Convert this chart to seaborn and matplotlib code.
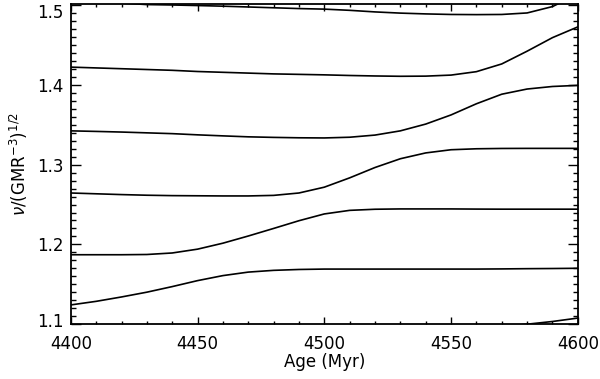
import matplotlib
matplotlib.use("Agg")
import matplotlib.pyplot as plt
import matplotlib.transforms as mtransforms
import seaborn as sns
import pandas as pd
from matplotlib.ticker import MultipleLocator

# Data
ages = [4400, 4410, 4420, 4430, 4440, 4450, 4460, 4470, 4480, 4490, 4500,
        4510, 4520, 4530, 4540, 4550, 4560, 4570, 4580, 4590, 4600]

mode1 = [1.507, 1.505, 1.503, 1.501, 1.5005, 1.4998, 1.499, 1.498, 1.497, 1.496, 1.4953,
         1.4938, 1.4918, 1.4903, 1.4893, 1.4886, 1.4884, 1.4886, 1.4905, 1.4985, 1.514]
mode2 = [1.4225, 1.4215, 1.4205, 1.4195, 1.4185, 1.417, 1.416, 1.415, 1.414, 1.4134, 1.4128,
         1.412, 1.4114, 1.411, 1.4112, 1.4125, 1.4168, 1.4265, 1.4425, 1.4595, 1.473]
mode3 = [1.3425, 1.3418, 1.341, 1.340, 1.339, 1.3375, 1.3362, 1.335, 1.3343, 1.3338, 1.3336,
         1.3345, 1.3372, 1.3425, 1.351, 1.3625, 1.3765, 1.3885, 1.395, 1.3982, 1.3996]
mode4 = [1.2645, 1.2635, 1.2625, 1.2617, 1.2612, 1.261, 1.2608, 1.2608, 1.2615, 1.2645, 1.2718,
         1.2835, 1.2965, 1.3075, 1.3148, 1.3188, 1.3200, 1.3204, 1.3205, 1.3205, 1.3205]
mode5 = [1.187, 1.187, 1.187, 1.1873, 1.1892, 1.194, 1.2015, 1.2105, 1.22, 1.2297, 1.2382,
         1.2427, 1.2441, 1.2445, 1.2445, 1.2445, 1.2443, 1.2442, 1.2442, 1.2442, 1.2442]
mode6 = [1.124, 1.1285, 1.134, 1.140, 1.147, 1.1545, 1.1608, 1.1652, 1.1674, 1.1685, 1.169,
         1.169, 1.169, 1.169, 1.169, 1.169, 1.169, 1.1692, 1.1695, 1.1697, 1.170]
ages7 = [4570, 4580, 4590, 4600]
mode7 = [1.0965, 1.0998, 1.1032, 1.1075]

series = {"m1": (ages, mode1), "m2": (ages, mode2), "m3": (ages, mode3),
          "m4": (ages, mode4), "m5": (ages, mode5), "m6": (ages, mode6),
          "m7": (ages7, mode7)}

frames = []
for name, (a, v) in series.items():
    frames.append(pd.DataFrame({"age": a, "nu": v, "mode": name}))
df = pd.concat(frames, ignore_index=True)

sns.set_style("white")
plt.rcParams["font.family"] = ["DejaVu Sans"]
plt.rcParams["mathtext.fontset"] = "dejavusans"
plt.rcParams["text.color"] = "black"
plt.rcParams["axes.labelcolor"] = "black"

fig = plt.figure(figsize=(6.0, 3.79), dpi=100)
ax = fig.add_axes([0.118, 0.145, 0.845, 0.845])

sns.lineplot(data=df, x="age", y="nu", hue="mode",
             palette=["black"] * 7, legend=False, sort=False,
             estimator=None, linewidth=1.2, ax=ax)

ax.set_xlim(4400, 4600)
ax.set_ylim(1.1, 1.502)
ax.xaxis.set_major_locator(MultipleLocator(50))
ax.xaxis.set_minor_locator(MultipleLocator(10))
ax.yaxis.set_minor_locator(MultipleLocator(0.01))
ax.set_yticks([1.1, 1.2, 1.3, 1.4, 1.5])
ax.set_yticklabels(["1.1", "1.2", "1.3", "1.4", "1.5"])

for s in ax.spines.values():
    s.set_color("black")
    s.set_linewidth(1.3)

ax.tick_params(axis="x", which="major", direction="in", length=4.8, width=1.0,
               top=True, bottom=True, labelsize=12, pad=8, colors="black")
ax.tick_params(axis="x", which="minor", direction="in", length=2.4, width=1.0,
               top=True, bottom=True, colors="black")
ax.tick_params(axis="y", which="major", direction="in", length=7.3, width=1.0,
               left=True, right=True, labelsize=12, pad=5, colors="black")
ax.tick_params(axis="y", which="minor", direction="in", length=3.7, width=1.0,
               left=True, right=True, colors="black")

# IDL-style: edge labels are kept inside the axis range
ylabels = ax.get_yticklabels()
down = mtransforms.ScaledTranslation(0, -0.06, fig.dpi_scale_trans)
up = mtransforms.ScaledTranslation(0, 0.04, fig.dpi_scale_trans)
ylabels[-1].set_transform(ylabels[-1].get_transform() + down)
ylabels[0].set_transform(ylabels[0].get_transform() + up)

ax.set_xlabel("Age (Myr)", fontsize=12, labelpad=0)
ax.set_ylabel(r"$\nu$/(GMR$^{-3}$)$^{1/2}$", fontsize=12, labelpad=5)

fig.savefig("out.png", dpi=100)
